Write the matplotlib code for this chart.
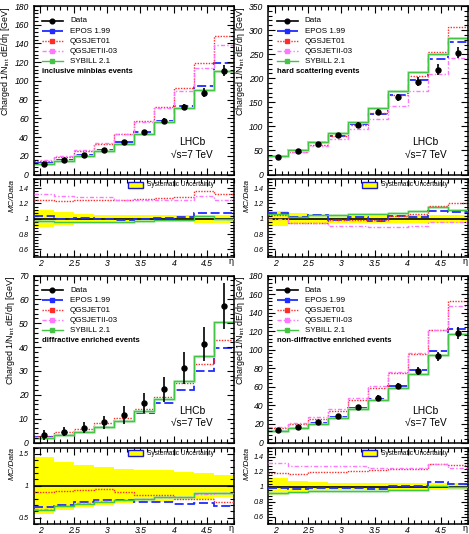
import numpy as np
import matplotlib
matplotlib.use('Agg')
import matplotlib.pyplot as plt
from matplotlib.ticker import AutoMinorLocator
from matplotlib.patches import Rectangle
from matplotlib.lines import Line2D

plt.rcParams['font.family'] = ['Liberation Sans', 'DejaVu Sans']
plt.rcParams['mathtext.fontset'] = 'custom'
plt.rcParams['mathtext.rm'] = 'Liberation Sans'
plt.rcParams['mathtext.it'] = 'Liberation Sans:italic'

# ---------------- data ----------------
eta_edges = [1.9, 2.2, 2.5, 2.8, 3.1, 3.4, 3.7, 4.0, 4.3, 4.6, 4.9]
eta_centers = [2.05, 2.35, 2.65, 2.95, 3.25, 3.55, 3.85, 4.15, 4.45, 4.75]
model_names = ['EPOS 1.99', 'QGSJET01', 'QGSJETII-03', 'SYBILL 2.1']

# inclusive minbias
incl_data = [11.5, 15.5, 20.5, 26.0, 34.5, 45.0, 57.0, 72.0, 87.5, 111.0]
incl_err = [2.0, 2.0, 2.0, 2.0, 2.5, 2.5, 3.0, 3.5, 4.5, 6.0]
incl_epos = [11.8, 15.5, 20.7, 26.0, 34.2, 45.0, 57.6, 73.4, 94.5, 118.8]
incl_qgs01 = [14.4, 19.1, 25.6, 32.5, 43.1, 56.7, 72.4, 92.9, 119.0, 147.6]
incl_qgs2 = [15.3, 20.2, 26.4, 33.3, 43.1, 55.8, 70.7, 89.3, 113.8, 138.8]
incl_syb = [11.2, 14.8, 19.7, 25.0, 33.1, 43.7, 55.9, 70.6, 90.1, 111.0]
incl_r_epos = [1.03, 1.00, 1.01, 1.00, 0.99, 1.00, 1.01, 1.02, 1.08, 1.07]
incl_r_qgs01 = [1.25, 1.23, 1.25, 1.25, 1.25, 1.26, 1.27, 1.29, 1.36, 1.33]
incl_r_qgs2 = [1.33, 1.30, 1.29, 1.28, 1.25, 1.24, 1.24, 1.24, 1.30, 1.25]
incl_r_syb = [0.97, 0.955, 0.96, 0.96, 0.96, 0.97, 0.98, 0.98, 1.03, 1.00]
incl_syst = [0.11, 0.085, 0.06, 0.045, 0.045, 0.045, 0.045, 0.045, 0.05, 0.055]

# hard scattering
hard_data = [36.0, 49.0, 63.5, 81.5, 103.0, 130.0, 160.0, 193.0, 218.0, 253.0]
hard_err = [4.0, 4.0, 5.0, 5.0, 6.0, 7.0, 8.0, 9.0, 12.0, 12.0]
hard_epos = [38.9, 50.0, 67.0, 80.7, 105.6, 125.5, 164.8, 196.9, 239.8, 275.8]
hard_qgs01 = [37.8, 46.6, 60.3, 80.7, 102.0, 127.4, 165.6, 205.5, 255.1, 306.1]
hard_qgs2 = [36.0, 46.1, 59.7, 74.2, 93.7, 115.7, 142.4, 173.7, 209.3, 242.9]
hard_syb = [38.2, 50.0, 66.7, 85.6, 109.2, 137.8, 172.8, 212.3, 250.7, 283.4]
hard_r_epos = [1.08, 1.02, 1.055, 0.99, 1.025, 0.965, 1.03, 1.02, 1.10, 1.09]
hard_r_qgs01 = [1.05, 0.95, 0.95, 0.99, 0.99, 0.98, 1.035, 1.065, 1.17, 1.21]
hard_r_qgs2 = [1.00, 0.94, 0.94, 0.91, 0.91, 0.89, 0.89, 0.90, 0.96, 0.96]
hard_r_syb = [1.06, 1.02, 1.05, 1.05, 1.06, 1.06, 1.08, 1.10, 1.15, 1.12]
hard_syst = [0.10, 0.07, 0.055, 0.05, 0.05, 0.05, 0.05, 0.05, 0.05, 0.05]

# diffractive enriched
diff_data = [3.2, 4.6, 6.1, 8.5, 11.5, 16.5, 22.3, 31.3, 41.3, 57.3]
diff_err = [2.0, 2.0, 2.3, 2.7, 3.6, 4.2, 5.3, 6.8, 7.2, 9.7]
diff_epos = [2.1, 3.2, 4.6, 6.5, 8.9, 12.2, 16.5, 22.2, 30.1, 39.5]
diff_qgs01 = [2.9, 4.2, 5.7, 8.1, 10.4, 14.2, 19.0, 25.0, 33.0, 43.0]
diff_qgs2 = [2.0, 3.2, 4.5, 6.5, 9.0, 13.2, 18.3, 25.7, 35.9, 50.4]
diff_syb = [2.0, 3.1, 4.3, 6.3, 8.9, 13.2, 18.3, 25.7, 36.3, 50.4]
diff_r_epos = [0.67, 0.70, 0.75, 0.77, 0.77, 0.74, 0.74, 0.71, 0.73, 0.69]
diff_r_qgs01 = [0.90, 0.91, 0.93, 0.95, 0.90, 0.86, 0.85, 0.80, 0.80, 0.75]
diff_r_qgs2 = [0.64, 0.69, 0.73, 0.76, 0.78, 0.80, 0.82, 0.82, 0.87, 0.88]
diff_r_syb = [0.62, 0.68, 0.71, 0.74, 0.77, 0.80, 0.82, 0.82, 0.88, 0.88]
diff_syst = [0.45, 0.38, 0.33, 0.30, 0.27, 0.25, 0.25, 0.22, 0.20, 0.17]

# non-diffractive enriched
nd_data = [13.0, 16.7, 21.7, 28.3, 38.0, 48.5, 60.8, 77.1, 93.0, 118.0]
nd_err = [2.0, 2.0, 2.0, 2.0, 2.5, 3.0, 3.5, 4.5, 5.0, 6.0]
nd_epos = [12.8, 16.1, 21.3, 27.7, 37.2, 46.8, 61.4, 77.9, 98.6, 122.7]
nd_qgs01 = [15.3, 19.5, 25.8, 34.0, 46.0, 59.2, 74.8, 95.6, 120.9, 152.2]
nd_qgs2 = [17.2, 21.4, 27.6, 35.9, 48.3, 60.6, 76.0, 96.4, 120.9, 147.5]
nd_syb = [12.0, 15.5, 20.4, 26.6, 35.7, 45.8, 58.4, 74.0, 93.9, 116.8]
nd_r_epos = [0.985, 0.965, 0.98, 0.98, 0.98, 0.965, 1.01, 1.01, 1.06, 1.04]
nd_r_qgs01 = [1.18, 1.17, 1.19, 1.20, 1.21, 1.22, 1.23, 1.24, 1.30, 1.29]
nd_r_qgs2 = [1.32, 1.28, 1.27, 1.27, 1.27, 1.25, 1.25, 1.25, 1.30, 1.25]
nd_r_syb = [0.92, 0.93, 0.94, 0.94, 0.94, 0.945, 0.96, 0.96, 1.01, 0.99]
nd_syst = [0.11, 0.08, 0.06, 0.05, 0.045, 0.045, 0.045, 0.045, 0.05, 0.05]

panel_labels = ['inclusive minbias events', 'hard scattering events',
                'diffractive enriched events', 'non-diffractive enriched events']

# ---------------- styles ----------------
styles = [
    dict(color='#1f2bff', lw=1.3, ls=(0, (5, 2))),
    dict(color='#ff2a2a', lw=1.0, ls=(0, (1, 1))),
    dict(color='#ff77ff', lw=1.0, ls=(0, (3, 1.5, 1, 1.5))),
    dict(color='#44c444', lw=1.0, ls='-'),
]

W, H = 469, 534
fig = plt.figure(figsize=(W / 100, H / 100), dpi=100)


def fpos(x0, x1, ytop, ybot):
    return [x0 / W, 1 - ybot / H, (x1 - x0) / W, (ybot - ytop) / H]


cols = [(33.5, 234.0), (268.3, 467.5)]
rows = [((6.0, 174.5), (179.0, 257.0)), ((275.5, 442.5), (447.5, 524.0))]

TICKFONT = dict(fontstyle='italic', fontsize=6.2)


def style_axes(ax):
    ax.tick_params(which='both', direction='in', top=True, right=True, width=0.8)
    ax.tick_params(which='major', length=5)
    ax.tick_params(which='minor', length=2.6)
    for s in ax.spines.values():
        s.set_linewidth(1.1)
    ax.xaxis.set_minor_locator(AutoMinorLocator(5))
    ax.yaxis.set_minor_locator(AutoMinorLocator(5))


def fmt(v):
    return ('%g' % v)


def draw(col, row, data, err, models, ratios, syst, ymax, ystep, rlim, rticks, label):
    (x0, x1) = cols[col]
    (mt, mb), (rt, rb) = rows[row]
    ax = fig.add_axes(fpos(x0, x1, mt, mb))
    axr = fig.add_axes(fpos(x0, x1, rt, rb))

    # main
    for vals, st in zip(models, styles):
        if st['ls'] == '-':
            ax.stairs(vals, eta_edges, baseline=None, color='#bdeebd', lw=2.0)
        ax.stairs(vals, eta_edges, baseline=None, color=st['color'], lw=st['lw'], linestyle=st['ls'])
    ax.errorbar(eta_centers, data, yerr=err, fmt='o', color='k', ms=3.6, elinewidth=1.2, capsize=0, zorder=5)
    ax.set_xlim(1.9, 4.9)
    ax.set_ylim(0, ymax)
    yt = np.arange(0, ymax + 1e-9, ystep)
    ax.set_yticks(yt)
    ax.set_yticklabels([fmt(v) for v in yt], **TICKFONT)
    ax.set_xticks([2, 2.5, 3, 3.5, 4, 4.5])
    ax.set_xticklabels([])
    style_axes(ax)
    ax.set_ylabel('Charged 1/N$_{\\rm int}$ dE/dη [GeV]', fontsize=6.4, loc='top', labelpad=1.5)

    # legend (manual, ROOT like)
    ly0, dly = 0.911, 0.0595
    entries = [('Data', dict(color='k', lw=1.2, ls='-'), 'k')] + \
              [(n, s, s['color']) for n, s in zip(model_names, styles)]
    for i, (name, st, mc) in enumerate(entries):
        y = ly0 - i * dly
        ax.add_line(Line2D([0.042, 0.147], [y, y], transform=ax.transAxes, color=st['color'],
                           lw=st['lw'], linestyle=st['ls']))
        ax.add_line(Line2D([0.0945], [y], transform=ax.transAxes, marker='o' if name == 'Data' else 's',
                           ms=3.4 if name == 'Data' else 2.2, color=mc, ls='none'))
        ax.text(0.182, y, name, transform=ax.transAxes, fontsize=5.8, va='center', ha='left')
    ax.text(0.042, ly0 - 5 * dly - 0.005, label, transform=ax.transAxes, fontsize=5.6,
            fontweight='bold', va='center', ha='left')
    ax.text(0.79, 0.19, 'LHCb', transform=ax.transAxes, fontsize=7.4, ha='center', va='center')
    ax.text(0.79, 0.118, '√s=7 TeV', transform=ax.transAxes, fontsize=7.2, ha='center', va='center')

    # ratio
    up = [1 + s for s in syst]
    lo = [1 - s for s in syst]
    axr.stairs(up, eta_edges, baseline=lo, fill=True, color='#ffff00', lw=0)
    axr.axhline(1, color='k', lw=1.2, zorder=3)
    for vals, st in zip(ratios, styles):
        if st['ls'] == '-':
            axr.stairs(vals, eta_edges, baseline=None, color='#bdeebd', lw=1.8)
        axr.stairs(vals, eta_edges, baseline=None, color=st['color'], lw=st['lw'], linestyle=st['ls'], zorder=4)
    axr.set_xlim(1.9, 4.9)
    axr.set_ylim(*rlim)
    axr.set_yticks(rticks)
    axr.set_yticklabels([fmt(v) for v in rticks], fontstyle='italic', fontsize=5.2)
    xt = [2, 2.5, 3, 3.5, 4, 4.5]
    axr.set_xticks(xt)
    axr.set_xticklabels([fmt(v) for v in xt], **TICKFONT)
    style_axes(axr)
    axr.tick_params(axis='x', pad=1.5)
    axr.set_ylabel('MC/Data', fontsize=6.0, loc='top', labelpad=2, fontstyle='italic')
    axr.set_xlabel('η', fontsize=6.5, loc='right', labelpad=-8)
    axr.add_patch(Rectangle((0.472, 0.89), 0.075, 0.075, transform=axr.transAxes,
                            facecolor='#ffff00', edgecolor='#1a1acc', lw=1.0, zorder=6))
    axr.text(0.565, 0.927, 'Systematic Uncertainty', transform=axr.transAxes, fontsize=4.7,
             va='center', ha='left', zorder=6)


std_r = (0.5, 1.52)
std_rt = [0.6, 0.8, 1.0, 1.2, 1.4]

draw(0, 0, incl_data, incl_err, [incl_epos, incl_qgs01, incl_qgs2, incl_syb],
     [incl_r_epos, incl_r_qgs01, incl_r_qgs2, incl_r_syb], incl_syst, 180, 20, std_r, std_rt, panel_labels[0])
draw(1, 0, hard_data, hard_err, [hard_epos, hard_qgs01, hard_qgs2, hard_syb],
     [hard_r_epos, hard_r_qgs01, hard_r_qgs2, hard_r_syb], hard_syst, 350, 50, std_r, std_rt, panel_labels[1])
draw(0, 1, diff_data, diff_err, [diff_epos, diff_qgs01, diff_qgs2, diff_syb],
     [diff_r_epos, diff_r_qgs01, diff_r_qgs2, diff_r_syb], diff_syst, 70, 10, (0.4, 1.6), [0.5, 1.0, 1.5], panel_labels[2])
draw(1, 1, nd_data, nd_err, [nd_epos, nd_qgs01, nd_qgs2, nd_syb],
     [nd_r_epos, nd_r_qgs01, nd_r_qgs2, nd_r_syb], nd_syst, 180, 20, std_r, std_rt, panel_labels[3])

fig.savefig('out.png', dpi=100)
